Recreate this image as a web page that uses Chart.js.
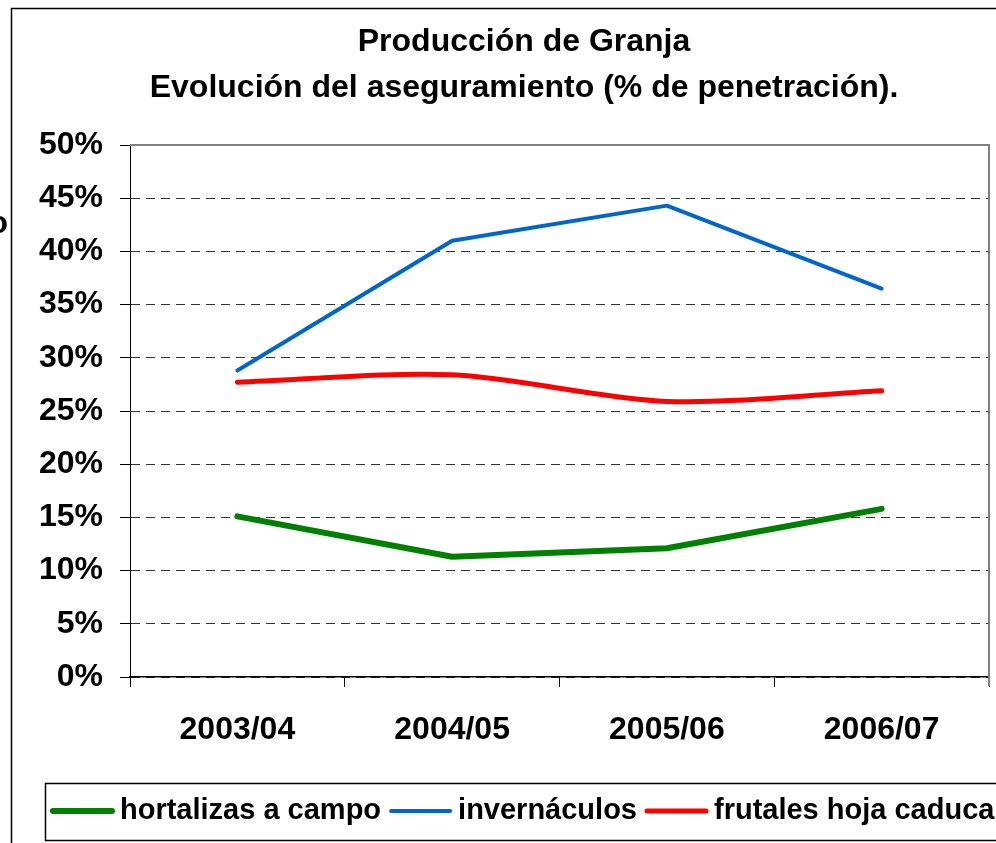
<!DOCTYPE html>
<html>
<head>
<meta charset="utf-8">
<script src="https://cdn.jsdelivr.net/npm/chart.js@4"></script>
<style>
  html, body { margin: 0; padding: 0; background: #fff; }
  canvas { display: block; }
</style>
</head>
<body>
<canvas id="granja" width="996" height="843"></canvas>
<script>
// datos (% de penetración)
const campanas = ["2003/04", "2004/05", "2005/06", "2006/07"];
const hortalizasCampo = [15.1, 11.3, 12.1, 15.8];
const invernaculos = [28.8, 41.0, 44.3, 36.5];
const frutalesHojaCaduca = [27.7, 28.4, 25.9, 26.9];
const nombresSeries = ["hortalizas a campo", "invernáculos", "frutales hoja caduca"];
const tituloLineas = ["Producción de Granja", "Evolución del aseguramiento (% de penetración)."];
const ejeMin = 0, ejeMax = 50, ejePaso = 5;

const FUENTE = "'Liberation Sans', Arial, sans-serif";
Chart.defaults.font.family = FUENTE;
Chart.defaults.color = "#000";

// título, marco exterior, borde del área y leyenda
const marco = {
    id: "marco",
    beforeDraw(chart) {
        const ctx = chart.ctx;
        ctx.save();
        ctx.fillStyle = "#fff";
        ctx.fillRect(0, 0, chart.width, chart.height);
        ctx.restore();
    },
    afterDraw(chart) {
        const { ctx, chartArea: a } = chart;
        ctx.save();
        ctx.strokeStyle = "#808080";
        ctx.lineWidth = 2;
        ctx.beginPath();
        ctx.moveTo(a.left, a.top);
        ctx.lineTo(a.right, a.top);
        ctx.lineTo(a.right, a.bottom + 9);
        ctx.stroke();

        ctx.strokeStyle = "#000";
        ctx.lineWidth = 1.5;
        ctx.strokeRect(11.5, 8.5, 1200, 1000);

        ctx.fillStyle = "#000";
        ctx.font = "bold 32px " + FUENTE;
        ctx.textAlign = "center";
        ctx.textBaseline = "middle";
        ctx.fillText(tituloLineas[0], 524, 42);
        ctx.fillText(tituloLineas[1], 524, 88);

        // resto de un rótulo cortado a la izquierda
        ctx.textAlign = "right";
        ctx.fillText("o", 8, 224);

        // leyenda
        ctx.lineWidth = 1.5;
        ctx.strokeStyle = "#000";
        ctx.strokeRect(45.5, 783.5, 1200, 57);
        ctx.font = "bold 29px " + FUENTE;
        ctx.textAlign = "left";
        let x = 53;
        const y = 811;
        chart.data.datasets.forEach(ds => {
            ctx.strokeStyle = ds.borderColor;
            ctx.lineWidth = ds.borderWidth;
            ctx.lineCap = "round";
            ctx.beginPath();
            ctx.moveTo(x, y);
            ctx.lineTo(x + 59, y);
            ctx.stroke();
            ctx.fillStyle = "#000";
            ctx.fillText(ds.label, x + 67, y);
            x += 67 + ctx.measureText(ds.label).width + 10;
        });
        ctx.restore();
    }
};

new Chart(document.getElementById("granja"), {
    type: "line",
    data: {
        labels: campanas,
        datasets: [
            { label: nombresSeries[0], data: hortalizasCampo, borderColor: "#008000", borderWidth: 6, tension: 0 },
            { label: nombresSeries[1], data: invernaculos, borderColor: "#0066cc", borderWidth: 4, tension: 0 },
            { label: nombresSeries[2], data: frutalesHojaCaduca, borderColor: "#ff0000", borderWidth: 5, tension: 0.3 }
        ]
    },
    options: {
        responsive: false,
        animation: false,
        devicePixelRatio: 1,
        layout: { padding: { left: 0, top: 145, right: 7, bottom: 86 } },
        elements: {
            point: { radius: 0 },
            line: { borderCapStyle: "round", borderJoinStyle: "round" }
        },
        plugins: { legend: { display: false }, title: { display: false }, tooltip: { enabled: false } },
        scales: {
            x: {
                offset: true,
                afterFit: s => { s.height = 80; },
                grid: { offset: true, drawOnChartArea: false, tickLength: 10, color: "#000" },
                border: { color: "#000", width: 1.5 },
                ticks: { font: { size: 32, weight: "bold" }, padding: 24, maxRotation: 0 }
            },
            y: {
                min: ejeMin,
                max: ejeMax,
                afterFit: s => { s.width = 130; },
                grid: { color: "#333", tickLength: 10, tickColor: "#000", tickBorderDash: [] },
                border: { color: "#000", width: 1, dash: [9, 6] },
                ticks: { stepSize: ejePaso, padding: 17, font: { size: 32, weight: "bold" }, callback: v => v + "%" }
            }
        }
    },
    plugins: [marco]
});
</script>
</body>
</html>
